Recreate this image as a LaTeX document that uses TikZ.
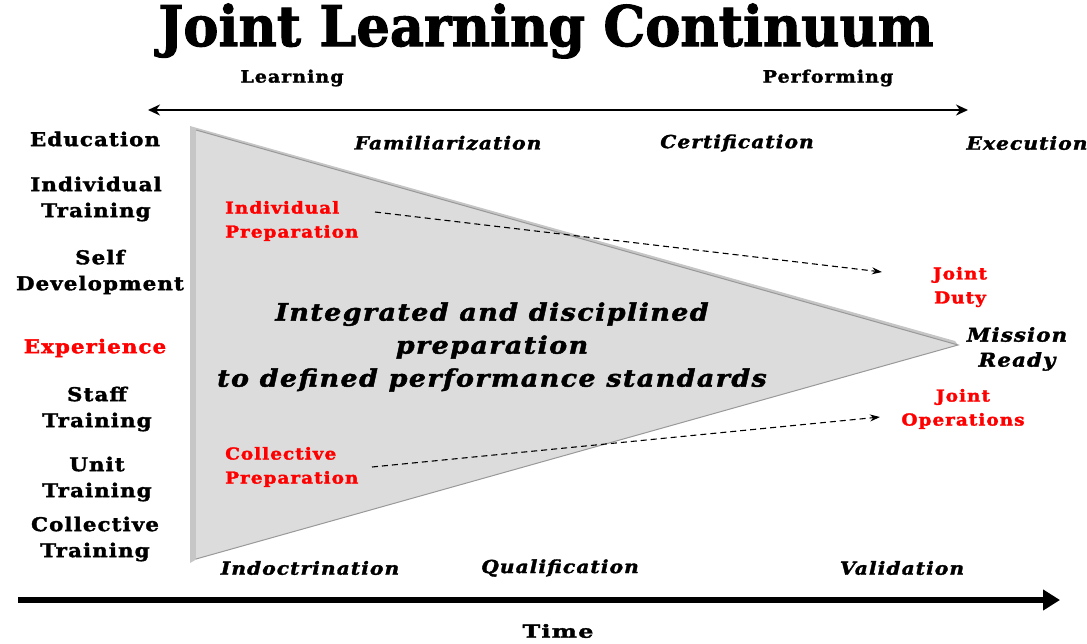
\documentclass[tikz,border=0pt]{standalone}
\usepackage{fontspec}
\setmainfont{DejaVu Serif}
\newfontfamily\widef[FakeStretch=1.12, LetterSpace=6, FakeBold=1.8]{DejaVu Serif}
\newfontfamily\titlef[FakeBold=1.8]{DejaVu Serif}
\usetikzlibrary{arrows.meta}
\definecolor{tri}{HTML}{DCDCDC}
\definecolor{lab}{HTML}{FF0000}
\tikzset{
  lbl/.style={font=\widef\bfseries\fontsize{19}{26}\selectfont, align=center, inner sep=0pt},
  redlbl/.style={lbl, text=lab},
  redsmall/.style={font=\widef\bfseries\fontsize{16.5}{24}\selectfont, align=center, inner sep=0pt, text=lab},
  redleft/.style={redsmall, align=left, anchor=west},
  phase/.style={font=\widef\bfseries\itshape\fontsize{18}{24}\selectfont, inner sep=0pt},
  head/.style={font=\widef\bfseries\fontsize{17}{24}\selectfont, inner sep=0pt},
  dasharrow/.style={dash pattern=on 6pt off 4pt, line width=1.1pt, -{Stealth[length=10pt,width=7pt]}},
}
\begin{document}
\begin{tikzpicture}[x=1pt,y={(0pt,-1pt)}]
\useasboundingbox (0,0) rectangle (1087,643);
% title
\node[font=\titlef\bfseries\fontsize{56}{60}\selectfont, inner sep=0pt, xscale=0.94] (title) at (546,31) {Joint Learning Continuum};
\node[head] (learn) at (292,78) {Learning};
\node[head] (perf) at (828,78) {Performing};
\coordinate (la) at (148,110);
\coordinate (lb) at (968,110);
\draw[line width=2.8pt, {Stealth[length=12pt,width=11pt]}-{Stealth[length=12pt,width=11pt]}] (la) -- (lb);
% triangle
\coordinate (t1) at (196,130);
\coordinate (t2) at (196,559);
\coordinate (t3) at (958,345);
\fill[gray!45] (190,126) -- (190,563) -- (197,559) -- (197,132) -- (958,345) -- (955,341) -- cycle;
\fill[tri] (t1) -- (t3) -- (t2) -- cycle;
\draw[gray!80, line width=1pt] (t1) -- (t3) -- (t2);
% left labels
\node[lbl] (edu) at (95,139) {Education};
\node[lbl] (indt) at (96,199) {Individual\\Training};
\node[lbl] (self) at (100,272) {Self\\Development};
\node[redlbl] (exp) at (95,348) {Experience};
\node[lbl] (staff) at (97,409) {Staff\\Training};
\node[lbl] (unit) at (97,479) {Unit\\Training};
\node[lbl] (coll) at (95,539) {Collective\\Training};
% phases
\node[phase] (fam) at (448,143) {Familiarization};
\node[phase] (cert) at (737,143) {Certification};
\node[phase] (exe) at (1027,143) {Execution};
\node[phase] (ind) at (310,568) {Indoctrination};
\node[phase] (qual) at (560,568) {Qualification};
\node[phase] (val) at (902,568) {Validation};
% preparation
\node[redleft] (ip) at (225,221) {Individual\\Preparation};
\node[redleft] (cp) at (225,467) {Collective\\Preparation};
\node[redsmall] (jd) at (960,287) {Joint\\Duty};
\node[redsmall] (jo) at (963,409) {Joint\\Operations};
\node[phase, align=center, font=\widef\bfseries\itshape\fontsize{19}{25}\selectfont] (mr) at (1017,349) {Mission\\Ready};
\node[font=\widef\bfseries\itshape\fontsize{24}{33}\selectfont, align=center, inner sep=0pt] (ctr) at (492,347) {Integrated and disciplined\\preparation\\to defined performance standards};
\coordinate (ips) at (375,212);
\coordinate (cps) at (372,467);
\coordinate (ja) at (882,272);
\coordinate (oa) at (880,417);
\draw[dasharrow] (ips) -- (ja);
\draw[dasharrow] (cps) -- (oa);
% time
\coordinate (ta) at (18,600);
\coordinate (tb) at (1060,600);
\draw[line width=5.5pt, -{Stealth[length=17pt,width=20pt,inset=0pt]}] (ta) -- (tb);
\node[font=\widef\bfseries\fontsize{18}{24}\selectfont, inner sep=0pt, xscale=1.18] (time) at (558,631) {Time};
\end{tikzpicture}
\end{document}
